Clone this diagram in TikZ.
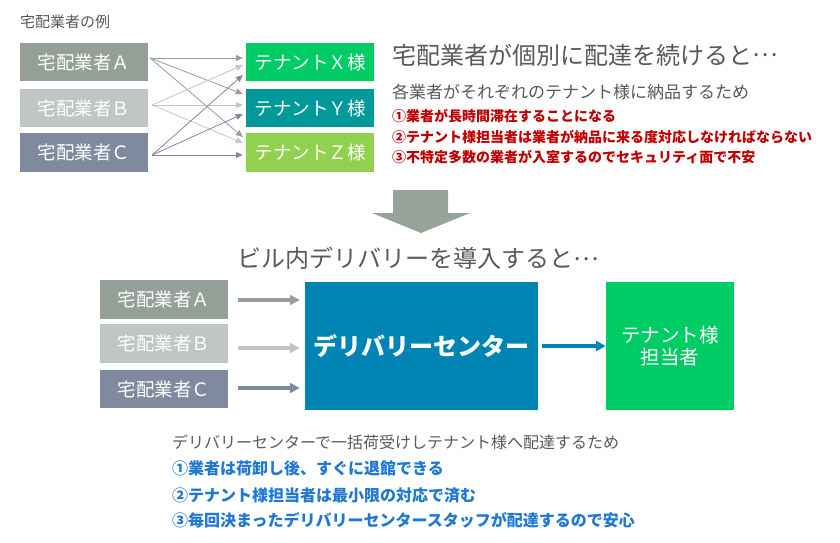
\documentclass[tikz,border=0pt]{standalone}
\usepackage{fontspec}
\setmainfont{Noto Sans CJK JP}
\usetikzlibrary{arrows.meta}
\definecolor{venA}{HTML}{939F97}
\definecolor{venB}{HTML}{C0C7C2}
\definecolor{venC}{HTML}{7F8A9E}
\definecolor{tenX}{HTML}{00CC66}
\definecolor{tenY}{HTML}{009999}
\definecolor{tenZ}{HTML}{92D050}
\definecolor{dcblue}{HTML}{0084B4}
\definecolor{bigarr}{HTML}{95A398}
\definecolor{txtgrey}{HTML}{595959}
\definecolor{txtred}{HTML}{C00000}
\definecolor{txtblue}{HTML}{1F78D4}
\newcommand{\fs}[1]{\fontsize{#1}{#1}\selectfont}
\newcommand{\middots}{\raisebox{0.3em}{…}}
\begin{document}
\begin{tikzpicture}[
  x=1pt, y=-1pt,
  box/.style={rectangle, inner sep=0pt, text=white, minimum width=128pt,
              font=\fs{18.5}},
  line/.style={-{Triangle[length=7pt,width=6pt]}, line width=0.8pt},
  fat/.style={-{Triangle[length=10pt,width=10pt]}, line width=3.5pt},
  txt/.style={anchor=west, inner sep=0pt, text=txtgrey},
  redtxt/.style={txt, text=txtred, font=\fs{14}\bfseries},
  bluetxt/.style={txt, text=txtblue, font=\fs{16}\bfseries}
]
  \useasboundingbox (0,0) rectangle (840,542);

  %% --- upper half: each vendor delivers to each tenant
  \node[txt, font=\fs{15}] (ex) at (20,22) {宅配業者の例};
  \node[box, fill=venA, minimum height=38pt] (va) at (84,62) {宅配業者Ａ};
  \node[box, fill=venB, minimum height=38pt] (vb) at (84,108) {宅配業者Ｂ};
  \node[box, fill=venC, minimum height=39pt] (vc) at (84,152.5) {宅配業者Ｃ};
  \node[box, fill=tenX, minimum height=38pt] (tx) at (310,62) {テナントＸ様};
  \node[box, fill=tenY, minimum height=38pt] (ty) at (310,108) {テナントＹ様};
  \node[box, fill=tenZ, minimum height=39pt] (tz) at (310,152.5) {テナントＺ様};

  %% vendor A
  \draw[line, venA] ([xshift=2pt,yshift=4pt]va.east) -- ([xshift=-3pt,yshift=4pt]tx.west);
  \draw[line, venA] ([xshift=2pt,yshift=4pt]va.east) -- ([xshift=-3pt,yshift=14pt]ty.west);
  \draw[line, venA] ([xshift=2pt,yshift=4pt]va.east) -- ([xshift=-3pt,yshift=15.5pt]tz.west);
  %% vendor B
  \draw[line, venB] ([xshift=4pt,yshift=3pt]vb.east) -- ([xshift=-3pt,yshift=-3pt]tx.west);
  \draw[line, venB] ([xshift=4pt,yshift=3pt]vb.east) -- ([xshift=-3pt,yshift=3pt]ty.west);
  \draw[line, venB] ([xshift=4pt,yshift=3pt]vb.east) -- ([xshift=-3pt,yshift=9.5pt]tz.west);
  %% vendor C
  \draw[line, venC] ([xshift=4pt,yshift=-2.5pt]vc.east) -- ([xshift=-3pt,yshift=-13pt]tx.west);
  \draw[line, venC] ([xshift=4pt,yshift=-2.5pt]vc.east) -- ([xshift=-3pt,yshift=-6pt]ty.west);
  \draw[line, venC] ([xshift=4pt,yshift=-2.5pt]vc.east) -- ([xshift=-3pt,yshift=-2.5pt]tz.west);

  \node[txt, font=\fs{24}] (h1) at (392,55) {宅配業者が個別に配達を続けると\middots};
  \node[txt, font=\fs{17}] (s1) at (392,92) {各業者がそれぞれのテナント様に納品するため};
  \node[redtxt] (r1) at (392,116) {①業者が長時間滞在することになる};
  \node[redtxt] (r2) at (392,137) {②テナント様担当者は業者が納品に来る度対応しなければならない};
  \node[redtxt] (r3) at (392,157) {③不特定多数の業者が入室するのでセキュリティ面で不安};

  %% big down arrow
  \fill[bigarr] (393,190) -- (448,190) -- (448,213) -- (470,213) -- (421,233)
    -- (372,213) -- (393,213) -- cycle;

  %% --- lower half: delivery center
  \node[txt, font=\fs{24}] (h2) at (237,258) {ビル内デリバリーを導入すると\middots};
  \node[box, fill=venA, minimum height=39pt] (bva) at (164,299.5) {宅配業者Ａ};
  \node[box, fill=venB, minimum height=39pt] (bvb) at (164,343.5) {宅配業者Ｂ};
  \node[box, fill=venC, minimum height=38pt] (bvc) at (164,389) {宅配業者Ｃ};
  \node[box, fill=dcblue, minimum width=233pt, minimum height=128pt,
        font=\fs{24}\bfseries] (dc) at (421.5,346) {デリバリーセンター};
  \node[box, fill=tenX, minimum height=128pt, align=center, font=\fs{19.5}]
    (tp) at (670,346) {テナント様\\[3pt]担当者};

  \draw[fat, venA] ([xshift=10pt,yshift=-0.5pt]bva.east) -- ([xshift=-5pt,yshift=-0.5pt]bva.east -| dc.west);
  \draw[fat, venB] ([xshift=10pt,yshift=-4.5pt]bvb.east) -- ([xshift=-5pt,yshift=-4.5pt]bvb.east -| dc.west);
  \draw[fat, venC] ([xshift=10pt,yshift=1pt]bvc.east) -- ([xshift=-5pt,yshift=1pt]bvc.east -| dc.west);
  \draw[fat, dcblue] ([xshift=4pt]dc.east) -- (tp.west);

  \node[txt, font=\fs{16}] (s2) at (172,442) {デリバリーセンターで一括荷受けしテナント様へ配達するため};
  \node[bluetxt] (b1) at (172,468) {①業者は荷卸し後、すぐに退館できる};
  \node[bluetxt] (b2) at (172,495) {②テナント様担当者は最小限の対応で済む};
  \node[bluetxt] (b3) at (172,520) {③毎回決まったデリバリーセンタースタッフが配達するので安心};
\end{tikzpicture}
\end{document}
